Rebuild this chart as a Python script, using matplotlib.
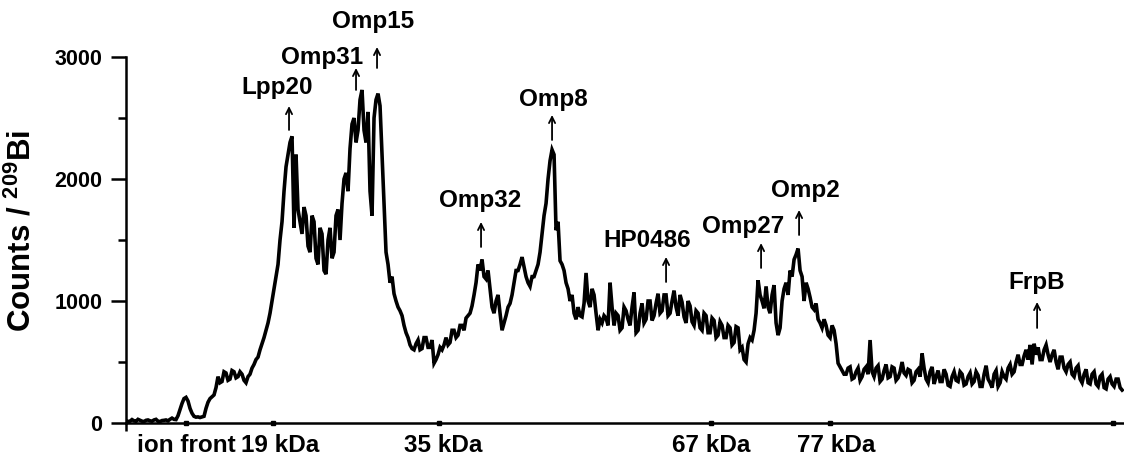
import matplotlib
matplotlib.use("Agg")
import matplotlib.pyplot as plt
import numpy as np

plt.rcParams["font.family"] = ["Liberation Sans", "DejaVu Sans"]
plt.rcParams["font.weight"] = "bold"
plt.rcParams["mathtext.fontset"] = "custom"
plt.rcParams["mathtext.rm"] = "Liberation Sans:bold"
plt.rcParams["mathtext.bf"] = "Liberation Sans:bold"

# migration distance (arbitrary units along the gel lane), one reading every 2 units
step = 2
counts = [
    20, 12, 15, 28, 18, 14, 30, 22, 15, 12,
    22, 25, 18, 15, 25, 30, 15, 12, 20, 22,
    25, 18, 30, 40, 30, 28, 60, 110, 160, 200,
    210, 180, 120, 80, 55, 48, 50, 45, 50, 55,
    120, 170, 200, 215, 230, 290, 380, 330, 340, 420,
    410, 350, 360, 430, 420, 370, 380, 420, 400, 350,
    330, 380, 400, 450, 480, 520, 540, 600, 650, 700,
    760, 820, 900, 1000, 1100, 1200, 1300, 1500, 1650, 1900,
    2100, 2200, 2300, 2350, 1600, 2200, 1750, 1650, 1550, 1770,
    1700, 1450, 1400, 1700, 1650, 1350, 1300, 1600, 1550, 1250,
    1220, 1500, 1600, 1350, 1400, 1700, 1750, 1500, 1800, 2000,
    2050, 1900, 2250, 2450, 2500, 2300, 2400, 2650, 2730, 2400,
    2300, 2550, 1900, 1700, 2500, 2650, 2700, 2600, 2200, 1800,
    1400, 1300, 1150, 1200, 1060, 1000, 950, 920, 880, 800,
    740, 700, 640, 610, 600, 650, 680, 600, 610, 700,
    700, 620, 620, 680, 490, 520, 560, 620, 600, 640,
    700, 640, 660, 760, 760, 700, 720, 800, 800, 760,
    860, 880, 900, 960, 1050, 1150, 1300, 1250, 1340, 1200,
    1180, 1250, 1100, 950, 900, 1000, 1050, 900, 760, 820,
    880, 950, 980, 1050, 1150, 1250, 1250, 1300, 1360, 1280,
    1200, 1150, 1120, 1200, 1200, 1250, 1300, 1400, 1550, 1700,
    1800, 2000, 2150, 2240, 2200, 1580, 1650, 1330, 1300, 1250,
    1150, 1100, 1000, 1050, 900, 850, 950, 880, 870, 980,
    1230, 1000, 950, 1100, 1050, 900, 760, 850, 820, 880,
    860, 800, 1150, 950, 800, 900, 880, 760, 780, 950,
    920, 850, 800, 950, 1070, 740, 760, 900, 980, 820,
    850, 1000, 1000, 840, 880, 980, 1060, 900, 920, 1050,
    1050, 880, 900, 1000, 1085, 950, 880, 1050, 990, 870,
    820, 1000, 960, 830, 800, 920, 900, 780, 760, 900,
    880, 740, 740, 860, 840, 700, 720, 830, 800, 700,
    700, 800, 780, 640, 660, 790, 780, 600, 620, 520,
    500, 650, 700, 680, 760, 900, 1170, 1050, 1000, 940,
    1120, 950, 900, 1050, 1130, 820, 720, 780, 1000, 1100,
    1150, 1050, 1250, 1200, 1340, 1380, 1430, 1250, 1200, 1000,
    1150, 1100, 1030, 950, 930, 980, 850, 820, 780, 850,
    800, 720, 700, 800, 760, 650, 490, 460, 430, 400,
    400, 450, 460, 360, 370, 420, 450, 350, 380, 440,
    460, 400, 680, 420, 380, 450, 470, 340, 360, 430,
    480, 370, 380, 460, 450, 350, 370, 420, 500, 410,
    390, 440, 430, 330, 350, 420, 440, 380, 570, 450,
    360, 330, 420, 460, 320, 380, 430, 340, 340, 440,
    400, 310, 300, 380, 420, 350, 340, 420, 400, 310,
    320, 380, 410, 320, 340, 420, 390, 300, 300, 400,
    470, 360, 330, 290, 400, 430, 300, 330, 420, 380,
    360, 450, 480, 400, 420, 500, 560, 480, 480, 550,
    600, 520, 640, 480, 650, 560, 620, 520, 520, 600,
    640, 560, 500, 560, 600, 500, 440, 540, 540, 450,
    420, 480, 500, 400, 380, 450, 470, 360, 330, 400,
    440, 330, 320, 400, 420, 320, 300, 380, 400, 290,
    280, 360, 380, 320, 300, 360, 360, 290, 270,
]
position = np.arange(len(counts)) * step

# size markers on the axis and their labels
marker_pos = [60, 147, 313, 585, 704, 987]
label_pos = [60, 154, 317, 585, 710]
label_text = ["ion front", "19 kDa", "35 kDa", "67 kDa", "77 kDa"]

# protein names: text x, text y, arrow x, arrow tail, arrow head
proteins = ["Lpp20", "Omp31", "Omp15", "Omp32", "Omp8", "HP0486", "Omp27", "Omp2", "FrpB"]
text_x = [151, 196, 247, 354, 427, 521, 617, 679, 911]
text_y = [2746, 3000, 3287, 1820, 2648, 1492, 1607, 1902, 1148]
arrow_x = [163, 230, 251, 355, 426, 540, 635, 673, 911]
arrow_tail = [2402, 2730, 2910, 1443, 2320, 1156, 1271, 1541, 779]
arrow_head = [2598, 2910, 3082, 1648, 2525, 1361, 1475, 1746, 992]

fig = plt.figure(figsize=(11.24, 4.62), dpi=100)
ax = fig.add_axes([0.1121, 0.0844, 0.888, 0.7922])

ax.plot(position, counts, color="black", lw=2.6, solid_joinstyle="miter")

ax.set_xlim(0, 998)
ax.set_ylim(0, 3000)
ax.spines["top"].set_visible(False)
ax.spines["right"].set_visible(False)
ax.spines["left"].set_linewidth(1.8)
ax.spines["bottom"].set_linewidth(1.8)

ax.set_yticks([0, 1000, 2000, 3000])
ax.set_yticks([500, 1500, 2500], minor=True)
ax.tick_params(axis="y", which="major", length=11, width=1.8, labelsize=15.5, pad=6)
ax.tick_params(axis="y", which="minor", length=6, width=1.8)

ax.set_xticks(label_pos)
ax.set_xticklabels(label_text)
ax.set_xticks([0], minor=True)
ax.tick_params(axis="x", which="major", length=0, labelsize=17.5, pad=8)
ax.tick_params(axis="x", which="minor", length=6, width=1.8)
ax.plot(marker_pos, [0] * len(marker_pos), "s", color="black", ms=3.5, clip_on=False)

ax.set_ylabel("Counts / $^{209}$Bi", fontsize=22.5, fontweight="bold")
ax.yaxis.set_label_coords(-0.089, 0.525)

for name, tx, ty, axx, a0, a1 in zip(proteins, text_x, text_y, arrow_x, arrow_tail, arrow_head):
    ax.text(tx, ty, name, ha="center", va="center", fontsize=17.5, fontweight="bold", clip_on=False)
    ax.annotate("", xy=(axx, a1), xytext=(axx, a0),
                arrowprops=dict(arrowstyle="->", lw=1.3, color="black",
                                shrinkA=0, shrinkB=0, mutation_scale=11),
                annotation_clip=False)

fig.savefig("out.png", dpi=100)
